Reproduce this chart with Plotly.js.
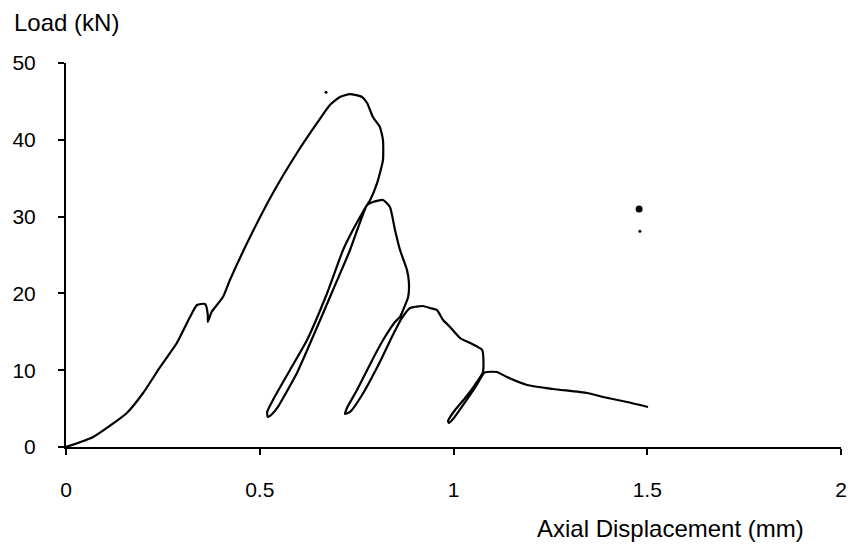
<!DOCTYPE html>
<html>
<head>
<meta charset="utf-8">
<script src="https://cdn.plot.ly/plotly-3.0.1.min.js"></script>
<style>html,body{margin:0;padding:0;background:#fff}#chart{width:850px;height:547px}</style>
</head>
<body>
<div id="chart"></div>
<script>
// Axial displacement (mm) along the recorded load path
var displacement = [
  0.000, 0.070, 0.157, 0.199, 0.243, 0.286, 0.320, 0.338, 0.359, 0.366, 0.366, 0.376, 0.405, 0.423,
  0.475, 0.534, 0.596, 0.648, 0.681, 0.707, 0.733, 0.764, 0.777, 0.792, 0.810, 0.818, 0.818, 0.803, 0.785, 0.772,
  0.744, 0.715, 0.674, 0.622, 0.578, 0.534, 0.519, 0.521,
  0.532, 0.545, 0.596, 0.637, 0.689, 0.733, 0.759, 0.777,
  0.792, 0.818, 0.836, 0.849, 0.862, 0.880, 0.885, 0.883, 0.870, 0.862,
  0.849, 0.823, 0.797, 0.751, 0.725, 0.720,
  0.733, 0.764, 0.810, 0.841, 0.867,
  0.888, 0.921, 0.939, 0.957, 0.973, 0.991, 1.017, 1.043, 1.074, 1.076,
  1.055, 1.030, 1.004, 0.986, 0.988,
  1.001, 1.025, 1.055, 1.079,
  1.086, 1.112, 1.138, 1.190, 1.257, 1.345, 1.386, 1.448, 1.502
];
// Load (kN) along the recorded load path
var load = [
  0.00, 1.30, 4.43, 7.03, 10.42, 13.54, 16.93, 18.49, 18.62, 17.19, 16.28, 17.60, 19.53, 21.74,
  27.34, 33.07, 38.28, 42.19, 44.53, 45.57, 45.96, 45.57, 44.79, 42.97, 41.67, 39.97, 37.37, 34.38, 32.16, 31.12,
  28.60, 25.65, 20.05, 13.93, 10.03, 6.12, 4.56, 3.91,
  4.30, 5.08, 9.64, 14.32, 20.44, 25.65, 29.30, 31.51,
  31.90, 32.16, 31.25, 28.26, 25.65, 23.05, 21.35, 19.53, 17.84, 16.93,
  16.28, 14.32, 11.98, 7.42, 5.08, 4.30,
  4.56, 6.77, 11.07, 14.32, 16.80,
  18.10, 18.36, 18.10, 17.84, 16.54, 15.63, 14.19, 13.54, 12.63, 9.77,
  8.07, 6.38, 4.82, 3.39, 3.13,
  3.78, 5.47, 7.68, 9.64,
  9.77, 9.77, 9.11, 8.07, 7.55, 7.03, 6.51, 5.86, 5.21
];
// stray specks on the scanned original
var speckX = [0.671, 1.479, 1.481];
var speckY = [46.2, 31.0, 28.1];
var speckSize = [3, 7, 3];

var xTicks = [0, 0.5, 1, 1.5, 2];
var xTickText = ['0', '0.5', '1', '1.5', '2'];
var yTicks = [0, 10, 20, 30, 40, 50];
var yTickText = ['0', '10', '20', '30', '40', '50'];

var font = 'Liberation Sans, Arial, Helvetica, sans-serif';

var traces = [
  {
    x: displacement, y: load, type: 'scatter', mode: 'lines',
    line: {color: '#000', width: 2.2, shape: 'spline', smoothing: 0.5},
    hoverinfo: 'x+y', showlegend: false
  },
  {
    x: speckX, y: speckY, type: 'scatter', mode: 'markers',
    marker: {color: '#000', size: speckSize, opacity: 1, line: {width: 0}},
    showlegend: false, hoverinfo: 'skip'
  }
];

var layout = {
  width: 850, height: 547,
  margin: {l: 66, r: 9, t: 63, b: 100},
  paper_bgcolor: '#fff', plot_bgcolor: '#fff',
  font: {family: font, color: '#000', size: 21},
  showlegend: false,
  xaxis: {
    range: [0, 2], tickvals: xTicks, ticktext: xTickText,
    showgrid: false, zeroline: false,
    showline: true, linecolor: '#000', linewidth: 2,
    ticks: 'outside', ticklen: 6, tickwidth: 2, tickcolor: '#000',
    ticklabelstandoff: 17,
    tickfont: {family: font, size: 21, color: '#000'}
  },
  yaxis: {
    range: [0, 50], tickvals: yTicks, ticktext: yTickText,
    showgrid: false, zeroline: false,
    showline: true, linecolor: '#000', linewidth: 2,
    ticks: 'outside', ticklen: 6, tickwidth: 2, tickcolor: '#000',
    ticklabelstandoff: 18,
    tickfont: {family: font, size: 21, color: '#000'}
  },
  annotations: [
    {
      text: 'Load (kN)', xref: 'paper', yref: 'paper',
      x: (12 - 66) / 775, y: (447 - 22) / 384, xanchor: 'left', yanchor: 'middle',
      showarrow: false, font: {family: font, size: 24, color: '#000'}
    },
    {
      text: 'Axial Displacement (mm)', xref: 'paper', yref: 'paper',
      x: (806 - 66) / 775, y: (447 - 528) / 384, xanchor: 'right', yanchor: 'middle',
      showarrow: false, font: {family: font, size: 24, color: '#000'}
    }
  ]
};

Plotly.newPlot('chart', traces, layout, {displayModeBar: false, staticPlot: true});
</script>
</body>
</html>
